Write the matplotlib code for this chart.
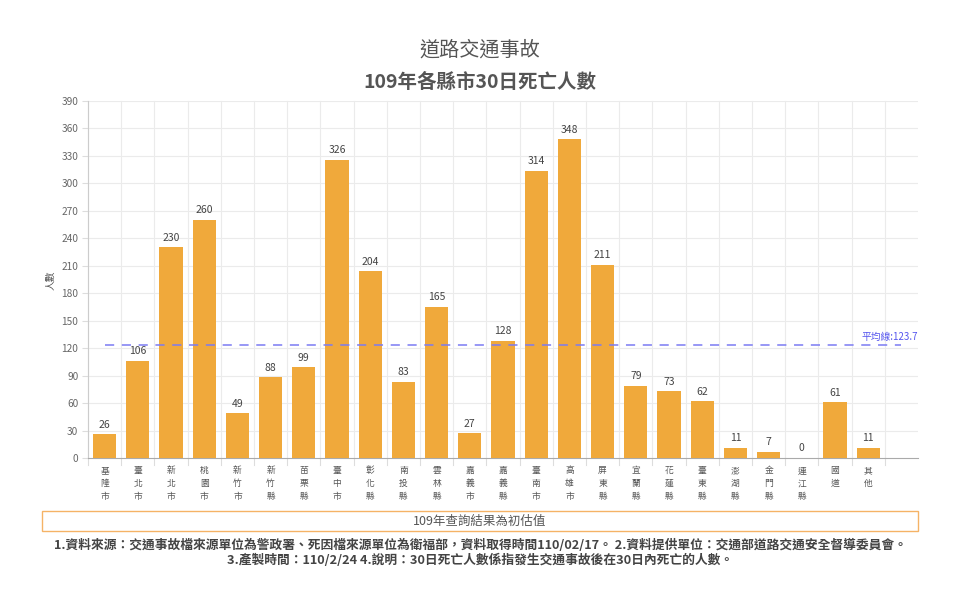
import matplotlib
matplotlib.use("Agg")
import matplotlib.pyplot as plt
from matplotlib.patches import Rectangle
import numpy as np

plt.rcParams['font.family'] = ['Noto Sans CJK TC', 'DejaVu Sans']

categories = ["基隆市", "臺北市", "新北市", "桃園市", "新竹市", "新竹縣", "苗栗縣", "臺中市",
              "彰化縣", "南投縣", "雲林縣", "嘉義市", "嘉義縣", "臺南市", "高雄市", "屏東縣",
              "宜蘭縣", "花蓮縣", "臺東縣", "澎湖縣", "金門縣", "連江縣", "國道", "其他"]
values = [26, 106, 230, 260, 49, 88, 99, 326, 204, 83, 165, 27, 128, 314, 348, 211,
          79, 73, 62, 11, 7, 0, 61, 11]
y_ticks = list(range(0, 391, 30))
title1 = "道路交通事故"
title2 = "109年各縣市30日死亡人數"
y_label = "人數"
avg_label = "平均線:123.7"
note_box = "109年查詢結果為初估值"
footnote1 = "1.資料來源：交通事故檔來源單位為警政署、死因檔來源單位為衛福部，資料取得時間110/02/17。 2.資料提供單位：交通部道路交通安全督導委員會。"
footnote2 = "3.產製時間：110/2/24 4.說明：30日死亡人數係指發生交通事故後在30日內死亡的人數。"

W, H = 960, 611
fig = plt.figure(figsize=(W / 100, H / 100), dpi=100)
ax = fig.add_axes([88 / W, 1 - 458 / H, (918 - 88) / W, (458 - 101) / H])

n = len(categories)
x = np.arange(n)
bar_color = "#f0a93b"
ax.bar(x, values, width=0.7, color=bar_color, zorder=3)

for xi, v in zip(x, values):
    ax.text(xi, v + 5, str(v), ha="center", va="bottom", fontsize=7.5, color="#444444", zorder=4)

avg = sum(values) / len(values)
ax.plot([0, 24], [avg, avg], color="#7b7bf2", linestyle=(0, (6, 5)), linewidth=1.1, zorder=4)
ax.text(24.5, avg + 3, avg_label, ha="right", va="bottom", fontsize=7, color="#5555ee", zorder=4)

ax.set_xlim(-0.5, 24.5)
ax.set_ylim(0, 390)
ax.set_yticks(y_ticks)
ax.set_yticklabels([str(t) for t in y_ticks], fontsize=7.3, color="#666666")
ax.tick_params(axis="y", length=4, color="#dddddd", pad=3)

for t in y_ticks[1:]:
    ax.axhline(t, color="#ebebeb", linewidth=0.8, zorder=1)
for b in np.arange(-0.5, n, 1.0):
    ax.plot([b, b], [0, 390], color="#ebebeb", linewidth=0.8, zorder=1, clip_on=False)
    ax.plot([b, b], [0, -8], color="#dddddd", linewidth=0.8, zorder=1, clip_on=False)

ax.set_xticks(x)
ax.set_xticklabels(["\n".join(c) for c in categories], fontsize=6.3, color="#555555",
                   linespacing=1.55, va="top")
ax.tick_params(axis="x", length=0, pad=6)

for s in ["top", "right"]:
    ax.spines[s].set_visible(False)
ax.spines["left"].set_color("#cccccc")
ax.spines["bottom"].set_color("#aaaaaa")

fig.text(50 / W, 1 - 280 / H, y_label, rotation=90, ha="center", va="center", fontsize=7, color="#555555")

fig.text(0.5, 1 - 50 / H, title1, ha="center", va="center", fontsize=14.5, color="#555555")
fig.text(0.5, 1 - 82 / H, title2, ha="center", va="center", fontsize=14, fontweight="bold", color="#555555")

box = Rectangle((42 / W, 1 - 531 / H), (918 - 42) / W, 20 / H, transform=fig.transFigure,
                facecolor="white", edgecolor="#f5b366", linewidth=1)
fig.patches.append(box)
fig.text(480 / W, 1 - 521 / H, note_box, ha="center", va="center", fontsize=9, color="#555555")

fig.text(480 / W, 1 - 545 / H, footnote1, ha="center", va="center", fontsize=9.2,
         fontweight="bold", color="#444444")
fig.text(480 / W, 1 - 560 / H, footnote2, ha="center", va="center", fontsize=9.2,
         fontweight="bold", color="#444444")

fig.savefig("out.png", dpi=100, facecolor="white")
